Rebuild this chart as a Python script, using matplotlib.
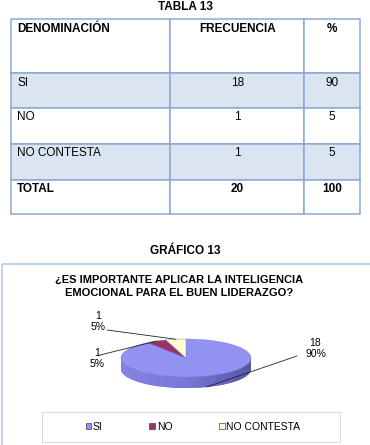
import matplotlib.pyplot as plt
from matplotlib.patches import Rectangle, Patch, Polygon
from matplotlib.colors import LinearSegmentedColormap
import numpy as np

plt.rcParams['font.family'] = ['Liberation Sans', 'DejaVu Sans']

# data
table_title = "TABLA 13"
header = ["DENOMINACIÓN", "FRECUENCIA", "%"]
categories = ["SI", "NO", "NO CONTESTA"]
frequencies = [18, 1, 1]
percents = [90, 5, 5]
total_row = ["TOTAL", "20", "100"]

chart_label = "GRÁFICO 13"
chart_title = ["¿ES IMPORTANTE APLICAR LA INTELIGENCIA",
               "EMOCIONAL PARA EL BUEN LIDERAZGO?"]
slice_colors = ["#9292f2", "#993366", "#ffffcc"]
side_colors = ["#6c6cc6", "#6a2447", "#c8c898"]

# layout (pixels of the 370x445 picture)
W, H = 370, 445
col_edges = [11, 170, 304, 360]
row_edges = [19, 73, 108, 144, 180, 214]
row_fills = ["white", "#dbe5f1", "white", "#dbe5f1", "white"]
border = "#8aa8d2"

fig = plt.figure(figsize=(W / 100, H / 100), dpi=100)
ax = fig.add_axes([0, 0, 1, 1])
ax.set_xlim(0, W)
ax.set_ylim(H, 0)
ax.axis('off')
ax.set_zorder(2)

ax.text(185.5, 10.5, table_title, ha='center', va='baseline',
        fontsize=8.5, fontweight='bold')

rows = [header]
for cat, f, p in zip(categories, frequencies, percents):
    rows.append([cat, str(f), str(p)])
rows.append(total_row)

text_x = [17, 237.5, 332]
text_ha = ['left', 'center', 'center']
for r, row in enumerate(rows):
    y0, y1 = row_edges[r], row_edges[r + 1]
    bold = r == 0 or r == len(rows) - 1
    for c, val in enumerate(row):
        x0, x1 = col_edges[c], col_edges[c + 1]
        ax.add_patch(Rectangle((x0, y0), x1 - x0, y1 - y0, facecolor=row_fills[r],
                               edgecolor=border, lw=1.1))
        ax.text(text_x[c], y0 + 12.5, val, ha=text_ha[c], va='baseline',
                fontsize=8.5, fontweight='bold' if bold else 'normal')

ax.text(185.5, 254, chart_label, ha='center', va='baseline',
        fontsize=8.5, fontweight='bold')

# chart frame and legend box
ax.add_patch(Rectangle((1.5, 264), 400, 200, facecolor='none',
                       edgecolor='#b8cce4', lw=1.2))
ax.add_patch(Rectangle((42, 412), 298, 30, facecolor='none',
                       edgecolor='#d5dce6', lw=0.8))

for i, line in enumerate(chart_title):
    ax.text(179.5, 282.7 + i * 13.3, line, ha='center', va='baseline',
            fontsize=8, fontweight='bold')

# 3d-looking pie
depth = 0.58
ax_p = fig.add_axes([121 / W, 1 - 388 / H, 130 / W, 49 / H])
for k in np.linspace(depth, 0.0, 16)[:-1]:
    ax_p.pie(frequencies, colors=side_colors, startangle=90, counterclock=False,
             center=(0, -k), radius=1, wedgeprops=dict(linewidth=0, zorder=1))

# shading of the front side
t = np.linspace(np.pi, 2 * np.pi, 120)
side = np.concatenate([np.c_[np.cos(t), np.sin(t) - depth],
                       np.c_[np.cos(t[::-1]), np.sin(t[::-1])]])
side_patch = Polygon(side, closed=True, facecolor='none', edgecolor='none',
                     transform=ax_p.transData)
ax_p.add_patch(side_patch)
shade = LinearSegmentedColormap.from_list('shade', ["#8484e4", "#7878d6", "#5656a8"])
grad = np.linspace(0, 1, 256).reshape(1, -1)
im = ax_p.imshow(grad, cmap=shade, extent=(-1, 1, -1 - depth, 0), aspect='auto',
                 zorder=1.5, interpolation='bilinear')
im.set_clip_path(side_patch)

ax_p.pie(frequencies, colors=slice_colors, startangle=90, counterclock=False,
         center=(0, 0), radius=1,
         wedgeprops=dict(linewidth=0.3, edgecolor='#8080d8', zorder=2))
ax_p.set_aspect('auto')
ax_p.set_xlim(-1, 1)
ax_p.set_ylim(-1 - depth, 1)
ax_p.axis('off')

# data labels with leader lines
total = sum(frequencies)
cum = np.cumsum([0] + frequencies[:-1])
mids = [np.deg2rad(90 - 360 * (c + f / 2) / total) for c, f in zip(cum, frequencies)]
label_x = [315.5, 97, 98.5]
label_y = [346, 356, 319.3]
line_start = [(297, 356), (100, 355), (107, 330)]
on_side = [True, False, False]
for i in range(len(categories)):
    ax.text(label_x[i], label_y[i], str(frequencies[i]), ha='center', va='baseline',
            fontsize=7.5)
    ax.text(label_x[i], label_y[i] + 11, f"{percents[i]}%", ha='center', va='baseline',
            fontsize=7.5)
    px, py = np.cos(mids[i]), np.sin(mids[i])
    if on_side[i]:
        py -= depth
    ax.annotate('', xy=(px, py), xycoords=ax_p.transData, xytext=line_start[i],
                textcoords='data',
                arrowprops=dict(arrowstyle='-', color='#222222', lw=0.6,
                                shrinkA=0, shrinkB=0))

handles = [Patch(facecolor=c, edgecolor='#404060', lw=0.5) for c in slice_colors]
fig.legend(handles, categories, ncol=3, loc='center',
           bbox_to_anchor=(193 / W, 1 - 427 / H), frameon=False, fontsize=7.5,
           handlelength=0.55, handleheight=0.55, handletextpad=0.15,
           columnspacing=4.5)

fig.savefig('out.png', dpi=100)
